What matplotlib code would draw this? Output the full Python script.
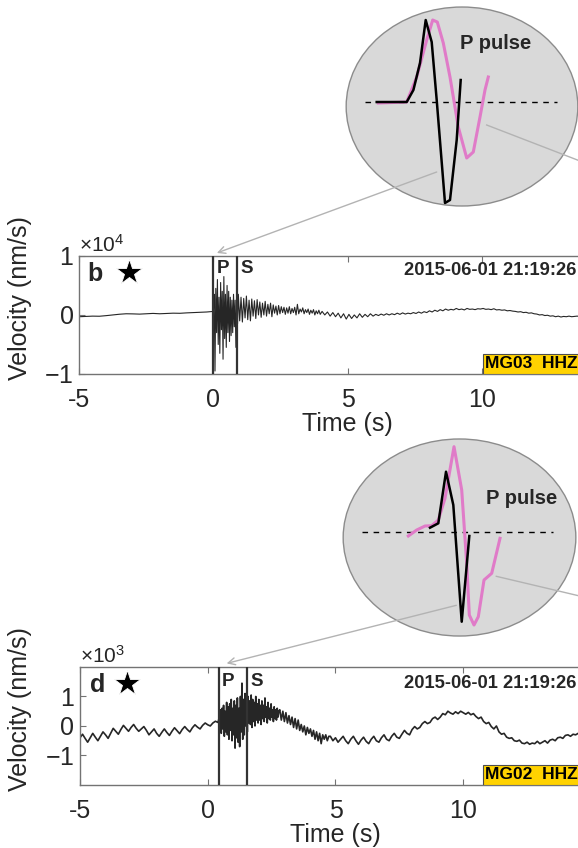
import numpy as np
import matplotlib.pyplot as plt
from matplotlib.patches import Ellipse, Rectangle
from matplotlib.ticker import ScalarFormatter

plt.rcParams['font.family'] = ['Liberation Sans', 'DejaVu Sans']
plt.rcParams['axes.unicode_minus'] = False
plt.rcParams['mathtext.fontset'] = 'custom'
plt.rcParams['mathtext.rm'] = 'Liberation Sans'
plt.rcParams['mathtext.it'] = 'Liberation Sans:italic'
plt.rcParams['mathtext.bf'] = 'Liberation Sans:bold'

# ---- panel b, MG03 HHZ, velocity in units of 1e4 nm/s ----
# (segment start [s], sample step [s], values)
b_pre = (-5.0, 0.25, [-0.03, -0.025, -0.02, -0.022, -0.012, 0.0, 0.012, 0.02, 0.018, 0.014,
                      0.02, 0.026, 0.02, 0.025, 0.03, 0.028, 0.035, 0.04, 0.045, 0.05])
b_burst = (0.0, 0.03, [0.06, 0.35, -0.95, 0.45, -0.3, 0.6, -0.5, 0.3, -0.65, 0.55, -0.25,
                       0.4, -0.75, 0.65, -0.4, 0.35, -0.55, 0.5, -0.3, 0.4, -0.45, 0.3,
                       -0.35, 0.25, -0.3, 0.35, -0.2, 0.25, -0.55, 0.3, -0.15])
b_coda = (0.93, 0.05, [0.35, -0.1, 0.3, -0.12, 0.28, -0.05, 0.32, -0.08, 0.25, -0.1, 0.27,
                       -0.02, 0.24, -0.06, 0.26, 0.0, 0.22, -0.04, 0.2, 0.0, 0.23, -0.02,
                       0.18, 0.02, 0.2, -0.03, 0.17, 0.03, 0.15, 0.0, 0.16, 0.02, 0.14,
                       0.04, 0.13, 0.01, 0.12, 0.03, 0.14, 0.02, 0.11, 0.04, 0.13, 0.0,
                       0.18, 0.02, 0.1, 0.05, 0.12, 0.02, 0.09, 0.04, 0.1, 0.01, 0.08,
                       0.03, 0.09, 0.0, 0.07, 0.02, 0.08, 0.01])
b_tail = (4.05, 0.1, [0.06, 0.0, 0.05, -0.02, 0.04, -0.03, 0.03, -0.05, 0.02, -0.07,
                      0.01, -0.06, 0.0, -0.05, 0.02, -0.04, 0.01, -0.03, 0.02, -0.02,
                      0.01, -0.01, 0.015, -0.005, 0.02, 0.0, 0.02, 0.005, 0.03, 0.01,
                      0.035, 0.015, 0.03, 0.02, 0.04, 0.025, 0.05, 0.03, 0.055, 0.04,
                      0.07, 0.05, 0.08, 0.06, 0.09, 0.07, 0.1, 0.08, 0.095, 0.085,
                      0.11, 0.09, 0.1, 0.085, 0.11, 0.095, 0.1, 0.09, 0.105, 0.1,
                      0.11, 0.095, 0.1, 0.09, 0.105, 0.085, 0.09, 0.08, 0.085, 0.07,
                      0.075, 0.065, 0.06, 0.05, 0.055, 0.04, 0.045, 0.03, 0.035, 0.02,
                      0.015, 0.0, 0.005, -0.01, -0.005, -0.02, -0.015, -0.03, -0.02, -0.035,
                      -0.025, -0.03, -0.02, -0.03, -0.025, -0.02, -0.025, -0.015, -0.02, -0.01])
b_picks = (0.0, 0.87)   # P, S arrival [s]

# ---- panel d, MG02 HHZ, velocity in units of 1e3 nm/s ----
d_pre = (-5.0, 0.1, [-0.40, -0.28, -0.42, -0.55, -0.40, -0.25, -0.38, -0.50, -0.35, -0.20,
                     -0.30, -0.42, -0.25, -0.08, -0.18, -0.28, -0.12, 0.02, -0.08, -0.18,
                     -0.05, 0.05, -0.08, -0.18, -0.10, -0.02, -0.15, -0.30, -0.20, -0.10,
                     -0.25, -0.35, -0.22, -0.10, -0.22, -0.32, -0.18, -0.06, -0.16, -0.26,
                     -0.12, -0.02, -0.12, -0.20, -0.06, 0.04, -0.04, -0.10, 0.02, 0.10,
                     0.04, 0.00, 0.10, 0.16, 0.12])
d_burst = (0.44, 0.03, [0.25, -0.05, 0.55, -0.25, 0.6, -0.1, 0.7, -0.35, 0.5, -0.2, 0.8,
                        -0.3, 0.65, -0.45, 0.75, -0.15, 0.9, -0.5, 0.6, -0.3, 0.85, -0.75,
                        0.7, -0.4, 0.95, -0.55, 0.6, -0.7, 1.0, -0.2, 1.45, -0.45, 0.9,
                        -0.3, 1.1, 0.0, 0.95, -0.2, 1.0, 0.1, 0.85, 0.05, 1.05, -0.05,
                        0.9, 0.15, 0.8, 0.0, 1.0, 0.2, 0.75, 0.1, 0.9, 0.2, 0.7, 0.05,
                        0.85, 0.25, 0.7, 0.15, 0.95, 0.3, 0.65, 0.1, 0.8, 0.25, 0.6, 0.2,
                        0.75, 0.3, 0.55, 0.15, 0.65, 0.25, 0.55, 0.2, 0.6, 0.3, 0.5])
d_coda = (2.82, 0.06, [0.55, 0.2, 0.5, 0.15, 0.45, 0.1, 0.35, 0.05, 0.3, -0.05, 0.25,
                       -0.1, 0.2, -0.15, 0.05, -0.2, 0.0, -0.3, -0.05, -0.25, -0.1,
                       -0.35, -0.15, -0.45, -0.2, -0.5, -0.25, -0.6, -0.3, -0.45, -0.3,
                       -0.5, -0.35])
d_tail = (4.8, 0.1, [-0.35, -0.5, -0.4, -0.55, -0.45, -0.35, -0.5, -0.6, -0.45, -0.35,
                     -0.5, -0.62, -0.48, -0.38, -0.52, -0.6, -0.45, -0.35, -0.5, -0.55,
                     -0.4, -0.3, -0.45, -0.5, -0.35, -0.25, -0.38, -0.42, -0.28, -0.15,
                     -0.25, -0.3, -0.12, -0.02, -0.1, -0.05, 0.08, 0.15, 0.08, 0.12,
                     0.25, 0.3, 0.22, 0.3, 0.42, 0.38, 0.5, 0.44, 0.4, 0.48,
                     0.42, 0.5, 0.45, 0.4, 0.46, 0.38, 0.42, 0.32, 0.25, 0.3,
                     0.15, 0.08, 0.12, -0.02, -0.1, 0.0, -0.2, -0.28, -0.25, -0.38,
                     -0.42, -0.4, -0.5, -0.52, -0.48, -0.58, -0.6, -0.55, -0.62, -0.58,
                     -0.6, -0.52, -0.6, -0.55, -0.5, -0.58, -0.48, -0.45, -0.5, -0.4,
                     -0.38, -0.42, -0.32, -0.3, -0.35, -0.28, -0.3, -0.25])
d_picks = (0.44, 1.53)

# ---- zoomed P pulses (sample offset, amplitude; arbitrary units) ----
pb_black_x = [0, 30, 36.7, 43.3, 49, 55, 60, 68.3, 73.3, 80, 84]
pb_black_y = [0, 0, 12, 39, 82, 60, 2, -101, -98, -38, 22]
pb_pink_x = [1.6, 30, 40, 50, 56, 60.6, 66.6, 73.3, 81.6, 90, 96.6, 103.3, 108.3, 111.6]
pb_pink_y = [-1, 0, 25, 62, 82, 80, 59, 25, -25, -56, -50, -15, 12, 25]

pd_black_x = [21.7, 30, 37.7, 45, 53.4, 61]
pd_black_y = [4.6, 9, 60.6, 27.3, -89.4, -3.7]
pd_pink_x = [0, 8.4, 16.7, 23.4, 30, 36.7, 45.7, 53.4, 58.4, 61, 65.7, 70, 75.7, 83.4, 91.7]
pd_pink_y = [-3.7, 2.3, 6.3, 6.6, 12.3, 34, 85.6, 42.3, -31, -82.7, -92.7, -84.4, -47.7, -41, -6]

date_str = '2015-06-01 21:19:26'
TXT = '0.15'
PINK = '#e07bc8'


def build(*segs):
    t = np.concatenate([s[0] + s[1] * np.arange(len(s[2])) for s in segs])
    v = np.concatenate([np.array(s[2]) for s in segs])
    return t, v


def draw_panel(ax, t, v, ylim, yticks, picks, letter, station, lab, date_x, lw):
    ax.plot(t, v, color='0.15', lw=lw, zorder=2)
    for tp in picks:
        ax.axvline(tp, color='0.2', lw=1.6, zorder=3)
    ax.text(picks[0] + 0.37, lab[1], 'P', fontsize=13.5, fontweight='bold', color=TXT,
            ha='center', va='center', transform=ax.get_xaxis_transform())
    ax.text(picks[1] + 0.37, lab[1], 'S', fontsize=13.5, fontweight='bold', color=TXT,
            ha='center', va='center', transform=ax.get_xaxis_transform())
    ax.set_xlim(-5, 15)
    ax.set_ylim(*ylim)
    ax.set_xticks([-5, 0, 5, 10])
    ax.set_yticks(yticks)
    fmt = ScalarFormatter(useMathText=True)
    fmt.set_powerlimits((0, 0))
    ax.yaxis.set_major_formatter(fmt)
    ax.yaxis.get_offset_text().set_fontsize(15)
    ax.yaxis.get_offset_text().set_color(TXT)
    ax.tick_params(direction='in', length=4, width=0.8, color='0.45', labelcolor=TXT,
                   labelsize=18, top=True, right=True)
    ax.tick_params(axis='x', pad=10)
    ax.tick_params(axis='y', pad=4)
    for sp in ax.spines.values():
        sp.set_color('0.45')
        sp.set_linewidth(1.0)
    ax.set_xlabel('Time (s)', fontsize=18, color=TXT, labelpad=0)
    ax.set_ylabel('Velocity (nm/s)', fontsize=18, color=TXT)
    ax.yaxis.set_label_coords(lab[2], 0.64)
    ax.text(lab[0], 0.845, letter, transform=ax.transAxes, fontsize=18,
            fontweight='bold', color=TXT, ha='center', va='center')
    ax.plot([0.092], [0.86], marker='*', ms=19, color='black', mec='white', mew=0.6,
            transform=ax.transAxes, clip_on=False)
    ax.text(date_x, lab[1] - 0.015, date_str, transform=ax.transAxes, fontsize=13.2,
            fontweight='bold', color=TXT, ha='right', va='center')
    ax.add_patch(Rectangle((lab[3], 0.0), 0.4, 0.17, transform=ax.transAxes,
                           facecolor='#ffd200', edgecolor='0.3', lw=0.8, zorder=4))
    ax.text(lab[3] + 0.004, 0.085, station, transform=ax.transAxes, fontsize=12.5,
            fontweight='bold', color='black', ha='left', va='center', zorder=5)


def draw_inset(ins, xlim, ylim, dash, bx, by, px, py, title_xy):
    ins.set_xlim(*xlim)
    ins.set_ylim(*ylim)
    ins.axis('off')
    ins.add_patch(Ellipse((0.5, 0.5), 0.99, 0.99, transform=ins.transAxes,
                          facecolor='#d9d9d9', edgecolor='0.55', lw=1.0, clip_on=False))
    ins.plot(dash, [0, 0], color='black', lw=1.0, ls=(0, (4, 4)))
    ins.plot(px, py, color=PINK, lw=2.2)
    ins.plot(bx, by, color='black', lw=1.8)
    ins.text(title_xy[0], title_xy[1], 'P pulse', fontsize=14.5, fontweight='bold',
             color=TXT, ha='center', va='center')


fig = plt.figure(figsize=(5.78, 8.48), dpi=100)

ax_b = fig.add_axes([0.137, 0.559, 0.9287, 0.1392])
ax_d = fig.add_axes([0.1384, 0.0743, 0.884, 0.1392])

tb, vb = build(b_pre, b_burst, b_coda, b_tail)
td, vd = build(d_pre, d_burst, d_coda, d_tail)

draw_panel(ax_b, tb, vb * 1e4, (-1e4, 1e4), [-1e4, 0, 1e4], b_picks, 'b', 'MG03  HHZ',
           (0.029, 0.89, -0.088, 0.752), 0.9255, 0.8)
draw_panel(ax_d, td, vd * 1e3, (-2e3, 2e3), [-1e3, 0, 1e3], d_picks, 'd', 'MG02  HHZ',
           (0.034, 0.875, -0.094, 0.789), 0.9706, 1.2)

ins_b = fig.add_axes([0.5969, 0.7559, 0.4048, 0.237])
draw_inset(ins_b, (-31.7, 202.3), (-105, 96), [-11.7, 180.3],
           pb_black_x, pb_black_y, pb_pink_x, pb_pink_y, (119.3, 59))
ins_d = fig.add_axes([0.5917, 0.2488, 0.4066, 0.2347])
draw_inset(ins_d, (-66.3, 168.7), (-104.7, 94.3), [-46.3, 144.7],
           pd_black_x, pd_black_y, pd_pink_x, pd_pink_y, (113.4, 34))

# connector lines from the zoomed pulses to the P picks
arrow = dict(arrowstyle='->,head_length=0.5,head_width=0.25', color='0.7', lw=1.0,
             shrinkA=0, shrinkB=0)
ins_b.annotate('', xy=(b_picks[0] + 0.13, 1.025), xycoords=ax_b.get_xaxis_transform(),
               xytext=(60, -70), textcoords='data', arrowprops=arrow,
               annotation_clip=False)
ins_d.annotate('', xy=(d_picks[0] + 0.3, 1.03), xycoords=ax_d.get_xaxis_transform(),
               xytext=(48, -73), textcoords='data', arrowprops=arrow,
               annotation_clip=False)
ins_b.plot([110, 263], [-23, -82], color='0.7', lw=1.0, clip_on=False)
ins_d.plot([88, 232], [-44, -78], color='0.7', lw=1.0, clip_on=False)

fig.savefig('out.png', dpi=100, facecolor='white')
